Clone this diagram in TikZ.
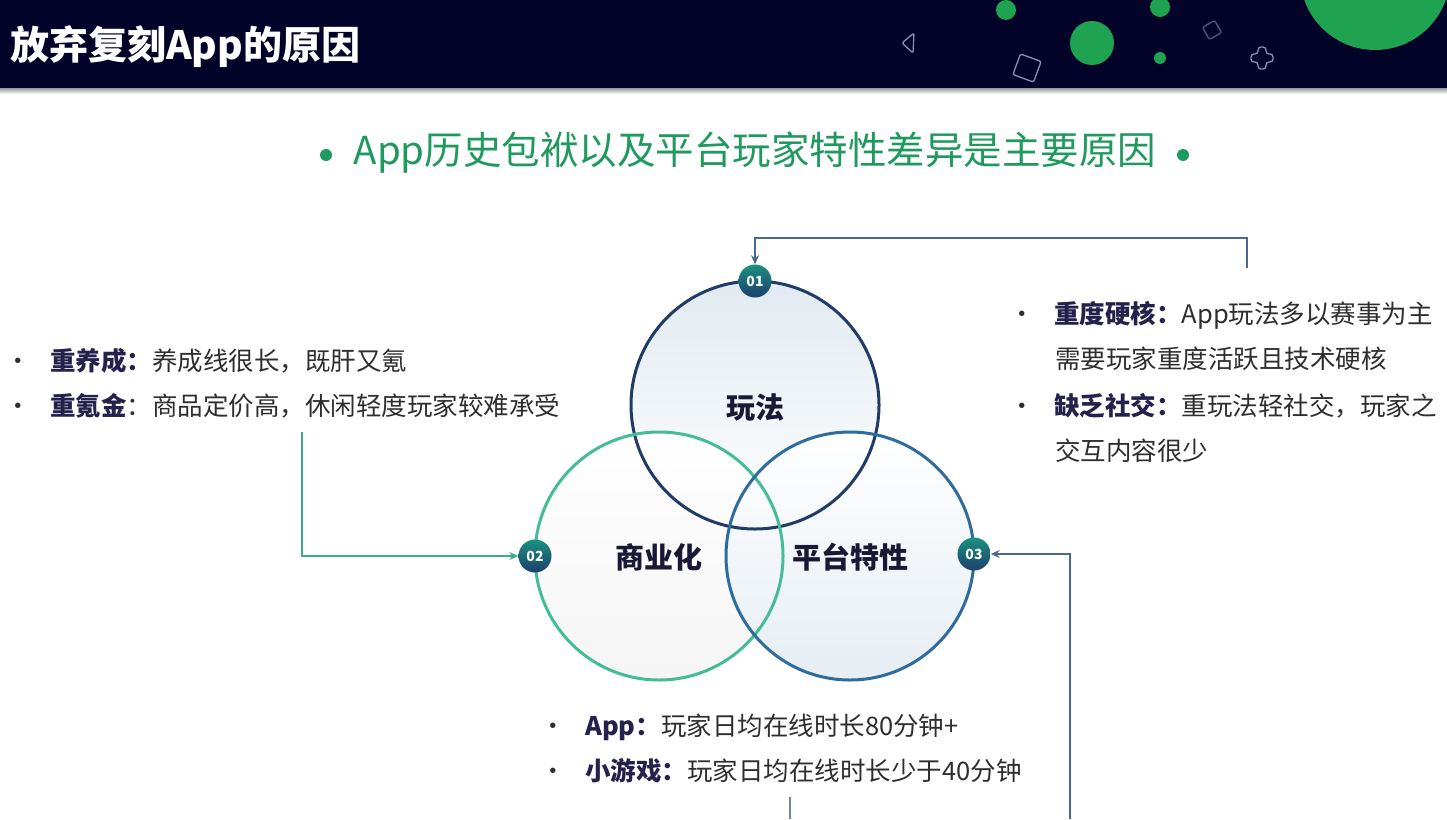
\documentclass[tikz,border=0pt]{standalone}
\usepackage{fontspec}
\setmainfont{Noto Sans CJK SC}
\usetikzlibrary{arrows.meta}
\definecolor{barnavy}{HTML}{03032A}
\definecolor{decogreen}{HTML}{1FA351}
\definecolor{decoline}{HTML}{8C8CB8}
\definecolor{subgreen}{HTML}{1E9A5E}
\definecolor{ringnavy}{HTML}{1F3B66}
\definecolor{ringgreen}{HTML}{45BC98}
\definecolor{ringblue}{HTML}{2F6C9E}
\definecolor{linkblue}{HTML}{4A6890}
\definecolor{linkgreen}{HTML}{3BAA8E}
\definecolor{bodygray}{HTML}{2E2E2E}
\definecolor{keynavy}{HTML}{24224C}
\definecolor{badgetop}{HTML}{1B9080}
\definecolor{badgebot}{HTML}{1D3F6E}
\newcommand{\itemdot}{\makebox[45pt][l]{•}}
\newcommand{\keyword}[1]{\textcolor{keynavy}{\bfseries #1}}
\begin{document}
\begin{tikzpicture}[x=1pt,y=-1pt,
  badge/.style={circle,minimum size=33pt,inner sep=0pt,top color=badgetop,bottom color=badgebot,text=white,font=\fontsize{14}{14}\selectfont\bfseries},
  ringlabel/.style={text=keynavy!70!black,font=\fontsize{29}{29}\selectfont\bfseries},
  bodytext/.style={anchor=base west,inner sep=0pt,text=bodygray,font=\fontsize{25.5}{26}\selectfont},
  link/.style={line width=2pt,-{Stealth[length=9pt,width=8pt]}},
  deco/.style={draw=decoline,line width=1.3pt,rounded corners=2pt}]
  % 画布
  \useasboundingbox (0,0) rectangle (1447,819);
  \fill[white] (0,0) rectangle (1447,819);
  % 标题栏
  \fill[barnavy] (0,0) rectangle (1447,88);
  \shade[top color=gray!80,bottom color=white] (0,88) rectangle (1447,94);
  \node[anchor=base west,inner sep=0pt,text=white,font=\fontsize{39}{39}\selectfont\bfseries] (title) at (10,59) {放弃复刻App的原因};
  % 标题栏装饰
  \fill[decogreen] (1006,10) circle (10) (1160,7) circle (10)
    (1092,43) circle (22) (1160,58) circle (6) (1375,-25) circle (75);
  \draw[deco] (902,43) -- (914,33) -- (913,53) -- cycle;
  \draw[deco,rotate around={-20:(1027,68)}] (1016,57) rectangle (1038,79);
  \draw[deco,draw=decoline!60!barnavy,rotate around={30:(1212,30)}] (1205,23) rectangle (1219,37);
  \draw[deco,rounded corners=3pt] (1258,47) -- (1266,47) -- (1266,54) -- (1273,54) -- (1273,62) -- (1266,62)
    -- (1266,69) -- (1258,69) -- (1258,62) -- (1251,62) -- (1251,54) -- (1258,54) -- cycle;
  % 副标题
  \node[text=subgreen,font=\fontsize{38.5}{38.5}\selectfont] (sub) at (755,153) {App历史包袱以及平台玩家特性差异是主要原因};
  \fill[subgreen] (326,155) circle (6) (1183,155) circle (6);
  % 三个圆（底色）
  \shade[top color=ringblue!14,bottom color=white] (755,405) circle (124);
  \shade[top color=white,bottom color=gray!8] (659,556) circle (124);
  \shade[top color=white,bottom color=ringblue!12] (850,556) circle (124);
  % 三个圆（边线）
  \draw[ringnavy,line width=3pt] (755,405) circle (124);
  \draw[ringgreen,line width=3pt] (659,556) circle (124);
  \draw[ringblue,line width=3pt] (850,556) circle (124);
  % 编号
  \node[badge] (b1) at (755,281) {01};
  \node[badge] (b2) at (535,556) {02};
  \node[badge] (b3) at (974,554) {03};
  % 圆内文字
  \node[ringlabel] (play) at (755,407) {玩法};
  \node[ringlabel] (biz) at (659,557) {商业化};
  \node[ringlabel] (plat) at (850,557) {平台特性};
  % 连接线
  \coordinate (s1) at (1247,268);
  \coordinate (k1) at (1247,238);
  \coordinate (s2) at (302,432);
  \coordinate (s3) at (1070,819);
  \coordinate (s4) at (790,797);
  \coordinate (e4) at (790,819);
  \draw[link,linkblue] (s1) -- (k1) -| (b1);
  \draw[link,linkgreen] (s2) |- (b2);
  \draw[link,linkblue] (s3) |- (b3);
  \draw[linkblue!80,line width=2pt] (s4) -- (e4);
  % 左侧说明
  \node[bodytext] (l1) at (5,370) {\itemdot\keyword{重养成：}养成线很长，既肝又氪};
  \node[bodytext] (l2) at (5,415) {\itemdot\keyword{重氪金}：商品定价高，休闲轻度玩家较难承受};
  % 右侧说明
  \node[bodytext] (r1) at (1009,323) {\itemdot\keyword{重度硬核：}App玩法多以赛事为主};
  \node[bodytext] (r2) at (1055,368) {需要玩家重度活跃且技术硬核};
  \node[bodytext] (r3) at (1009,415) {\itemdot\keyword{缺乏社交：}重玩法轻社交，玩家之};
  \node[bodytext] (r4) at (1055,460) {交互内容很少};
  % 下方说明
  \node[bodytext] (d1) at (540,735) {\itemdot\keyword{App：}玩家日均在线时长80分钟+};
  \node[bodytext] (d2) at (540,780) {\itemdot\keyword{小游戏：}玩家日均在线时长少于40分钟};
\end{tikzpicture}
\end{document}
